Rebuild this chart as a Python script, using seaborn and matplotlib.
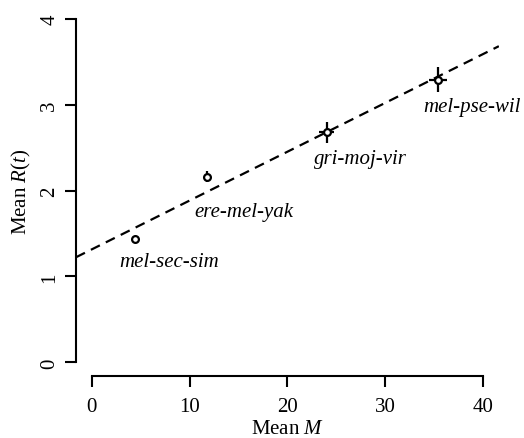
import numpy as np
import pandas as pd
import seaborn as sns
import matplotlib.pyplot as plt

# species groups and their means
groups = ["mel-sec-sim", "ere-mel-yak", "gri-moj-vir", "mel-pse-wil"]
mean_m = [4.46, 11.82, 24.0, 35.4]
mean_r = [1.437, 2.163, 2.679, 3.289]
err_m = [0.2, 0.3, 0.75, 0.93]
err_r = [0.03, 0.06, 0.12, 0.145]

# fitted line
fit_intercept = 1.315
fit_slope = 0.0569

# where the group names sit
label_x = [7.9, 15.6, 27.45, 38.85]
label_y = [1.18, 1.76, 2.37, 2.98]

sns.set_theme(style="ticks", rc={"axes.edgecolor": "black", "text.color": "black",
                                 "axes.labelcolor": "black", "xtick.color": "black",
                                 "ytick.color": "black"})
plt.rcParams["font.family"] = ["Liberation Serif", "DejaVu Serif"]
plt.rcParams["mathtext.fontset"] = "custom"
plt.rcParams["mathtext.rm"] = "Liberation Serif"
plt.rcParams["mathtext.it"] = "Liberation Serif:italic"

FS = 15

df = pd.DataFrame({"group": groups, "M": mean_m, "R": mean_r})

fig = plt.figure(figsize=(5.24, 4.39), dpi=100)
ax = fig.add_axes([0.145, 0.141, 0.807, 0.845])

ax.axline((0, fit_intercept), slope=fit_slope, color="black", lw=1.6,
          ls=(0, (4.5, 3)), zorder=1)
ax.errorbar(df["M"], df["R"], xerr=err_m, yerr=err_r, fmt="none",
            ecolor="black", elinewidth=1.6, capsize=0, zorder=2)
sns.scatterplot(data=df, x="M", y="R", ax=ax, marker="o", s=24,
                facecolor="white", edgecolor="black", linewidth=1.6, zorder=3)

for name, lx, ly in zip(groups, label_x, label_y):
    ax.text(lx, ly, name, ha="center", va="center", style="italic",
            fontsize=FS, clip_on=False)

ax.set_xlim(-1.6, 41.6)
ax.set_ylim(-0.16, 4.16)
ax.set_xticks([0, 10, 20, 30, 40])
ax.set_yticks([0, 1, 2, 3, 4])
ax.spines["left"].set_bounds(0, 4)
ax.spines["bottom"].set_bounds(0, 40)
sns.despine(ax=ax)
for s in ["left", "bottom"]:
    ax.spines[s].set_linewidth(1.5)
ax.tick_params(length=8, width=1.5, labelsize=FS)
ax.tick_params(axis="x", pad=7)
ax.tick_params(axis="y", pad=4)
for lab in ax.get_yticklabels():
    lab.set_rotation(90)
    lab.set_va("center")

ax.set_xlabel("Mean $\\mathit{M}$", fontsize=FS, labelpad=2)
ax.set_ylabel("Mean $\\mathit{R}(\\mathit{t})$", fontsize=FS, labelpad=5)

fig.savefig("out.png", dpi=100)
